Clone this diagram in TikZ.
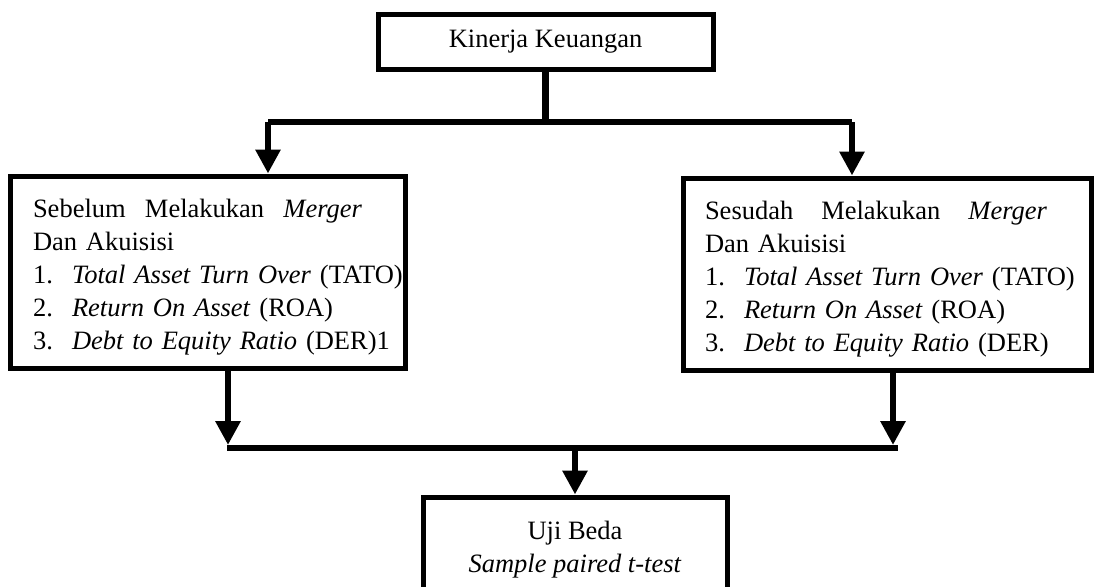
\documentclass[tikz,border=0pt]{standalone}
\usepackage{fontspec}
\setmainfont{Liberation Serif}
\usetikzlibrary{arrows.meta}

\begin{document}
\begin{tikzpicture}[x=1pt,y=-1pt,
    garis/.style={line width=6.5pt},
    panah/.style={line width=6.5pt,-{Triangle[width=24pt,length=24pt]}}]

  \useasboundingbox (0,0) rectangle (1094,586);

  \begin{scope}[every node/.style={draw,line width=5pt,inner sep=0pt,
      font=\fontsize{26.5}{33}\selectfont}]
    \node[minimum width=335pt,minimum height=55pt] (kinerja) at (545.5,42) {Kinerja Keuangan};
    \node[minimum width=395pt,minimum height=192pt,text width=349pt,align=left] (sebelum) at (207.5,272)
      {\rule{0pt}{28pt}\makebox[329pt][l]{Sebelum\hfill Melakukan\hfill \textit{Merger}}\\
       Dan Akuisisi\\
       \mbox{\makebox[39pt][l]{1.}\textit{Total Asset Turn Over} (TATO)}\\
       \mbox{\makebox[39pt][l]{2.}\textit{Return On Asset} (ROA)}\\
       \mbox{\makebox[39pt][l]{3.}\textit{Debt to Equity Ratio} (DER)1}};
    \node[minimum width=408pt,minimum height=192pt,text width=364pt,align=left] (sesudah) at (887,274)
      {\rule{0pt}{28pt}\makebox[342pt][l]{Sesudah\hfill Melakukan\hfill \textit{Merger}}\\
       Dan Akuisisi\\
       \mbox{\makebox[39pt][l]{1.}\textit{Total Asset Turn Over} (TATO)}\\
       \mbox{\makebox[39pt][l]{2.}\textit{Return On Asset} (ROA)}\\
       \mbox{\makebox[39pt][l]{3.}\textit{Debt to Equity Ratio} (DER)}};
    \node[minimum width=304pt,minimum height=106pt,align=center] (beda) at (575,550)
      {Uji Beda\\ \textit{Sample paired t-test}};
  \end{scope}

  % percabangan atas
  \coordinate (cabangKiri)  at (268,122);
  \coordinate (cabangKanan) at (852,122);
  \coordinate (cabangTengah) at (kinerja.south |- cabangKiri);
  \draw[garis] (kinerja.south) -- (cabangTengah);
  \draw[garis] (cabangKiri) -- (cabangKanan);
  \draw[panah] (cabangKiri) -- (sebelum.north -| cabangKiri);
  \draw[panah] (cabangKanan) -- (sesudah.north -| cabangKanan);

  % penggabungan bawah
  \coordinate (ujungKiri)  at (228,445);
  \coordinate (ujungKanan) at (893,445);
  \coordinate (barKiri)  at (227,448);
  \coordinate (barKanan) at (898,448);
  \coordinate (gabungTengah) at (beda.north |- barKiri);
  \draw[panah] (sebelum.south -| ujungKiri) -- (ujungKiri);
  \draw[panah] (sesudah.south -| ujungKanan) -- (ujungKanan);
  \draw[garis] (barKiri) -- (barKanan);
  \draw[panah] (gabungTengah) -- (beda.north);

\end{tikzpicture}
\end{document}
